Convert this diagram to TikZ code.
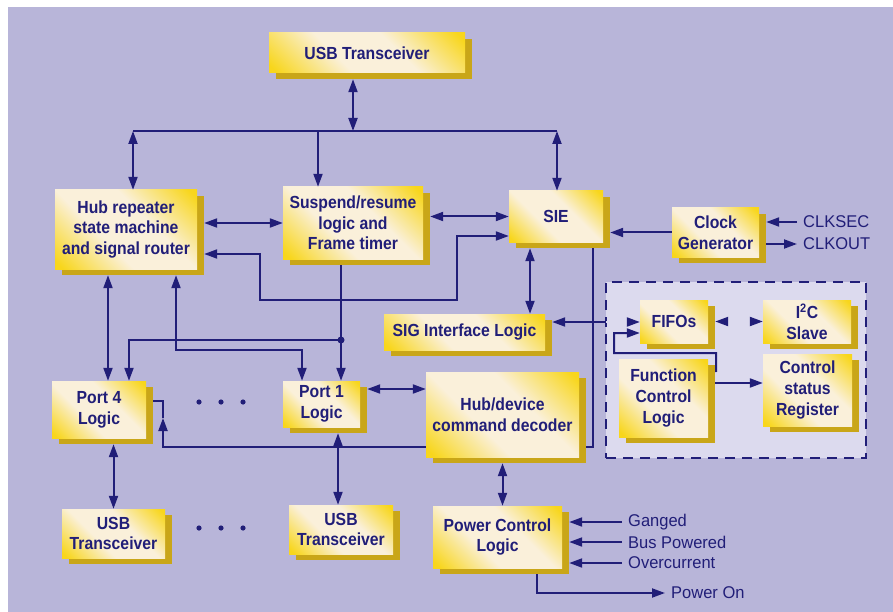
\documentclass[tikz,border=0pt]{standalone}
\usepackage{fontspec}
\newfontfamily\diafont{Liberation Sans}[FakeStretch=0.9]
\newfontfamily\lblfont{Liberation Sans}[FakeStretch=0.97]
\usetikzlibrary{arrows.meta,shadows}
\definecolor{bgcol}{RGB}{184,181,217}
\definecolor{panelcol}{RGB}{220,218,238}
\definecolor{navy}{RGB}{33,30,120}
\definecolor{yel}{RGB}{248,214,28}
\definecolor{cream}{RGB}{250,240,218}
\definecolor{shd}{RGB}{201,166,24}
\pgfdeclarehorizontalshading{boxshade}{100bp}{color(0bp)=(yel); color(17bp)=(yel); color(40bp)=(cream); color(60bp)=(cream); color(83bp)=(yel); color(100bp)=(yel)}

\begin{document}
\begin{tikzpicture}[x=1pt,y=-1pt,
box/.style={shading=boxshade,shading angle=45,
  drop shadow={shadow xshift=7pt,shadow yshift=-6pt,fill=shd,opacity=1},
  align=center,inner sep=0pt,text=navy,font=\diafont\bfseries\fontsize{17.5}{20.7}\selectfont},
lbl/.style={anchor=west,inner xsep=6pt,inner ysep=0pt,text=navy,font=\lblfont\fontsize{17}{20}\selectfont},
line/.style={draw=navy,line width=2pt},
arrow/.style={line,-{Triangle[length=13pt,width=9pt]}},
dbl/.style={line,{Triangle[length=13pt,width=9pt]}-{Triangle[length=13pt,width=9pt]}},
hidarrow/.style={draw=panelcol,line width=2pt,-{Triangle[length=13pt,width=9pt,color=navy]}},
hiddbl/.style={draw=panelcol,line width=2pt,{Triangle[length=13pt,width=9pt,color=navy]}-{Triangle[length=13pt,width=9pt,color=navy]}},
panel/.style={draw=navy,fill=panelcol,line width=2pt,dash pattern=on 10pt off 7pt,inner sep=0pt}]
\useasboundingbox (0,0) rectangle (893,612);
\fill[bgcol] (8,7) rectangle (893,612);
\node[panel,minimum width=260pt,minimum height=176pt](fpanel) at (736,370){};
\node[box,minimum width=196pt,minimum height=40pt](usbt) at (367,53){USB Transceiver};
\node[box,minimum width=142pt,minimum height=79pt](hub) at (126,229.5){Hub repeater\\state machine\\and signal router};
\node[box,minimum width=140pt,minimum height=72pt](susp) at (353,223){Suspend/resume\\logic and\\Frame timer};
\node[box,minimum width=94pt,minimum height=51pt](sie) at (556,216.5){SIE};
\node[box,minimum width=87pt,minimum height=49pt](clk) at (715.5,232.5){Clock\\Generator};
\node[box,minimum width=161pt,minimum height=36pt](sig) at (464.5,332){SIG Interface Logic};
\node[box,minimum width=94pt,minimum height=57pt](port4) at (99,409.5){Port 4\\Logic};
\node[box,minimum width=77pt,minimum height=46pt](port1) at (321.5,404){Port 1\\Logic};
\node[box,minimum width=153pt,minimum height=85pt](hd) at (502.5,414.5){Hub/device\\command decoder};
\node[box,minimum width=103pt,minimum height=49pt](usb4) at (113.5,533.5){USB\\Transceiver};
\node[box,minimum width=104pt,minimum height=49pt](usb1) at (341,529.5){USB\\Transceiver};
\node[box,minimum width=129pt,minimum height=62pt](pcl) at (497.5,537){Power Control\\Logic};
\node[box,minimum width=68pt,minimum height=43pt](fifo) at (674,321.5){FIFOs};
\node[box,minimum width=88pt,minimum height=43pt](i2c) at (807,321.5){I\textsuperscript{2}C\\Slave};
\node[box,minimum width=89pt,minimum height=78pt](fcl) at (663.5,398){Function\\Control\\Logic};
\node[box,minimum width=89pt,minimum height=72pt](csr) at (807.5,390){Control\\status\\Register};
\node[lbl](clksec) at (797,222){CLKSEC};
\node[lbl](clkout) at (797,244){CLKOUT};
\node[lbl](ganged) at (622,522){Ganged};
\node[lbl](buspow) at (622,542){Bus Powered};
\node[lbl](overc) at (622,563){Overcurrent};
\node[lbl](pwron) at (665,593){Power On};
\coordinate(busl) at (133,131);\coordinate(bust) at (353,131);\coordinate(buss) at (318,131);\coordinate(busr) at (557,131);
\coordinate(lp1) at (260,300);\coordinate(lp2) at (457,236);
\coordinate(sx) at (530,280);\coordinate(hx) at (593,447);
\coordinate(sigin) at (606,322);
\coordinate(fa) at (716,353);\coordinate(fb) at (614,333);\coordinate(cy) at (740,383);
\coordinate(p4a) at (108,300);\coordinate(hp1) at (176,350);\coordinate(hp2) at (302,350);
\coordinate(dot) at (341,340);\coordinate(d4) at (129,340);
\coordinate(py) at (400,389);
\coordinate(ha) at (163,447);\coordinate(hm) at (163,418);\coordinate(hb) at (163,401);
\coordinate(u1) at (338,480);\coordinate(pon) at (537,593);
\draw[dbl]([yshift=-6pt]usbt.south -| bust)--(bust);
\draw[line](busl)--(busr);
\draw[dbl](busl)--(busl |- hub.north);
\draw[arrow](buss)--(buss |- susp.north);
\draw[dbl](busr)--(busr |- sie.north);
\draw[dbl]([xshift=7pt]susp.west -| hub.east)--(susp.west);
\draw[dbl]([xshift=7pt]sie.west -| susp.east)--(sie.west);
\draw[arrow](clk.west)--([xshift=7pt]sie.east |- clk.west);
\draw[arrow](clksec.west)--([xshift=7pt]clk.east |- clksec.west);
\draw[arrow]([xshift=7pt]clk.east |- clkout.west)--(clkout.west);
\draw[dbl]([xshift=7pt,yshift=-24.5pt]hub.east)-|(lp1)-|(lp2)--(lp2 -| sie.west);
\draw[dbl]([yshift=-6pt]sie.south -| sx)--(sx |- sig.north);
\draw[line]([yshift=-6pt]sie.south -| hx)--(hx)--([xshift=7pt]hd.east |- hx);
\draw[arrow](sigin)--([xshift=7pt]sig.east |- sigin);
\draw[hidarrow](sigin)--(fifo.west |- sigin);
\draw[hiddbl]([xshift=7pt]fifo.east)--(i2c.west);
\draw[arrow]([xshift=8pt,yshift=26pt]fcl.east)--(fa)-|(fb)--(fb -| fifo.west);
\draw[arrow]([xshift=7pt]fcl.east |- cy)--(cy -| csr.west);
\draw[dbl]([yshift=-6pt]hub.south -| p4a)--(p4a |- port4.north);
\draw[dbl]([yshift=-6pt]hub.south -| hp1)--(hp1)--(hp2)--(hp2 |- port1.north);
\draw[arrow]([yshift=-6pt]susp.south -| dot)--(dot |- port1.north);
\fill[navy](dot) circle (3.5pt);
\draw[arrow](dot)--(d4)--(d4 |- port4.north);
\draw[dbl]([xshift=7pt]port1.east |- py)--(py -| hd.west);
\draw[arrow](hd.west |- ha)--(ha)--(hm);\draw[line](hm)--(hb)--([xshift=7pt]port4.east |- hb);
\draw[dbl]([yshift=-6pt]port1.south -| u1)--(u1 |- usb1.north);
\draw[dbl]([yshift=-6pt]port4.south -| usb4.north)--(usb4.north);
\draw[dbl]([yshift=-6pt]hd.south)--(hd.south |- pcl.north);
\draw[arrow](ganged.west)--([xshift=7pt]pcl.east |- ganged.west);
\draw[arrow](buspow.west)--([xshift=7pt]pcl.east |- buspow.west);
\draw[arrow](overc.west)--([xshift=7pt]pcl.east |- overc.west);
\draw[arrow]([yshift=-6pt]pcl.south -| pon)--(pon)--(pwron.west);
\foreach \x in {199,221,243}{\fill[navy](\x,402) circle (2.6pt);\fill[navy](\x,528) circle (2.6pt);}
\end{tikzpicture}
\end{document}
